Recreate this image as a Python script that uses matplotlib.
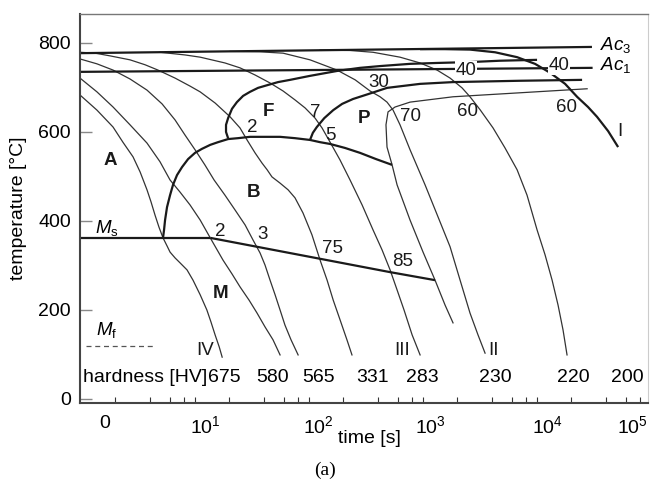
import matplotlib
matplotlib.use('Agg')
import matplotlib.pyplot as plt
from matplotlib.ticker import FixedLocator, NullFormatter

plt.rcParams['font.family'] = ['Liberation Sans', 'DejaVu Sans']
plt.rcParams['mathtext.fontset'] = 'custom'
plt.rcParams['mathtext.rm'] = 'Liberation Sans'
plt.rcParams['mathtext.it'] = 'Liberation Sans:italic'
plt.rcParams['mathtext.bf'] = 'Liberation Sans:bold'

# ── Data: time [s], temperature [°C] ─────────────────────────
ac3_t, ac3_T = [0.98, 30300], [777, 791]
ac1_t, ac1_T = [0.98, 30700], [735, 744]
ms_t, ms_T = [0.98, 13.6], [362, 362]
bf_t, bf_T = [13.6, 125, 514, 1274], [362, 315, 285, 267]
mf_t, mf_T = [1.11, 4.55], [119, 119]

# transformation boundaries (thick)
fs_t = [19.5, 18.7, 18.7, 19.5, 21.1, 23.3, 26.4, 30.3, 35.7, 42.9, 53.5, 68.1, 102, 176,
        280, 420, 769, 1327, 2582, 4730, 10000]
fs_T = [586, 600, 616, 631, 652, 667, 681, 690, 699, 705, 712, 717, 726, 737,
        744, 748, 753, 755, 757, 760, 762]
bs_t = [5.24, 5.35, 5.46, 5.68, 6.04, 6.41, 6.95, 7.69, 8.69, 10, 11.5, 13.6, 15.9, 19.5,
        23.8, 30.3, 41.1, 55.7, 75.3, 102, 125, 153, 207, 280, 387, 535]
bs_T = [362, 380, 402, 431, 458, 481, 503, 521, 539, 553, 562, 571, 577, 584,
        586, 589, 589, 589, 586, 582, 577, 573, 564, 553, 539, 526]
ps_t = [102, 108, 117, 136, 163, 195, 243, 330, 483, 942, 1832, 7096, 24830]
ps_T = [582, 598, 611, 631, 649, 663, 674, 685, 699, 708, 712, 715, 717]

# pearlite finish (thin)
pf_t = [27480, 7096, 1832, 769, 568, 493, 473, 483, 535, 592, 769, 1000, 1274, 1560, 1832]
pf_T = [697, 688, 679, 667, 656, 645, 616, 566, 526, 481, 402, 330, 267, 211, 171]

# cooling curves
c_iv_t = [0.98, 1.38, 1.91, 2.33, 2.86, 3.30, 3.79, 4.11, 4.46, 4.83, 5.24, 5.68, 6.04,
          6.68, 7.38, 8.51, 9.60, 11.1, 12.7, 13.8, 15.0, 16.3, 17.3]
c_iv_T = [683, 649, 611, 577, 544, 510, 470, 443, 413, 386, 362, 344, 330,
          317, 306, 290, 267, 234, 200, 173, 144, 117, 94]
c_2_t = [0.98, 1.38, 1.91, 2.69, 3.79, 4.93, 6.04, 7.38, 9.04, 11.1, 13.6, 17.6, 21.1,
         24.8, 29.8, 35.0, 41.1, 48.3, 55.7]
c_2_T = [721, 690, 656, 616, 575, 533, 492, 465, 436, 402, 362, 312, 281,
         252, 222, 193, 162, 133, 99]
c_3_t = [0.98, 1.38, 1.91, 2.69, 3.79, 5.14, 6.68, 8.17, 10, 12.2, 14.7, 18.3, 22.4,
         27.5, 32.3, 37.2, 41.1, 45.5, 50.4, 55.7, 61.5, 69.5, 80.2]
c_3_T = [764, 753, 739, 719, 694, 663, 627, 593, 560, 526, 492, 458, 425,
         391, 357, 328, 301, 267, 234, 200, 166, 133, 99]
c_w_t = [0.98, 1.33, 1.79, 2.69, 3.64, 4.73, 6.68, 9.04, 11.1, 15.0, 20.3, 24.8, 28.6,
         33.6, 38.7, 42.9, 47.3, 55.7, 65.5, 75.3, 88.5, 106, 125, 144, 163, 187, 215, 238]
c_w_T = [779, 777, 771, 762, 751, 739, 721, 703, 690, 665, 634, 609, 582,
         553, 530, 515, 499, 485, 470, 452, 418, 369, 312, 267, 222, 178, 133, 99]
c_iii_t = [4.93, 8.17, 11.1, 18.3, 24.8, 33.6, 45.5, 59.2, 75.3, 92.3, 113, 130, 153,
           187, 229, 292, 364, 437, 514, 592, 681, 802, 942]
c_iii_T = [779, 773, 768, 755, 744, 728, 710, 692, 672, 654, 631, 609, 577,
           537, 492, 436, 380, 335, 290, 245, 200, 144, 99]
c_ii_t = [20.3, 37.2, 59.2, 102, 176, 254, 343, 420, 483, 546, 628, 769, 1042, 1409,
          1726, 2113, 2582, 3034, 3499]
c_ii_T = [781, 780, 777, 762, 739, 717, 692, 679, 667, 649, 616, 560, 481, 398,
          342, 267, 193, 144, 103]
c_220_t = [125, 229, 364, 628, 942, 1327, 1726, 2198, 2582, 3162, 4111, 5236, 6683, 8166,
           10000, 11750, 13550, 15280, 16900, 18320]
c_220_T = [784, 783, 779, 768, 755, 739, 721, 699, 679, 650, 609, 564, 515, 458,
           380, 324, 267, 211, 155, 99]
c_i_t = [942, 1560, 2582, 4285, 6683, 9594, 13000, 17620, 22440, 27990, 33570, 41980, 51400]
c_i_T = [786, 786, 785, 779, 768, 753, 733, 708, 679, 656, 634, 602, 566]

hardness = ['675', '580', '565', '331', '283', '230', '220', '200']
hardness_t = [18.0, 48.3, 120, 364, 980, 4285, 20700, 61500]

xtick_pos = [1.62, 12.2, 120, 1150, 12300, 69000]
xtick_lab = ['0', r'$10^1$', r'$10^2$', r'$10^3$', r'$10^4$', r'$10^5$']
minor_ticks = [m * 10 ** e for e in range(0, 5) for m in (2, 4, 6, 8, 10)]

THICK = dict(color='#1a1a1a', lw=1.6, solid_capstyle='butt', solid_joinstyle='round')
THIN = dict(color='#333333', lw=0.9, solid_joinstyle='round')

fig = plt.figure(figsize=(6.5, 4.86), dpi=100)
ax = fig.add_axes([0.1231, 0.1708, 0.874, 0.8004])
ax.set_xscale('log')
ax.set_xlim(0.98, 94200)
ax.set_ylim(-9, 865)

# thin cooling curves
for t, T in [(c_iv_t, c_iv_T), (c_2_t, c_2_T), (c_3_t, c_3_T), (c_w_t, c_w_T),
             (c_iii_t, c_iii_T), (c_ii_t, c_ii_T), (c_220_t, c_220_T), (pf_t, pf_T)]:
    ax.plot(t, T, **THIN)

# thick lines
for t, T in [(ac3_t, ac3_T), (ac1_t, ac1_T), (ms_t, ms_T), (bf_t, bf_T),
             (fs_t, fs_T), (bs_t, bs_T), (ps_t, ps_T), (c_i_t, c_i_T)]:
    ax.plot(t, T, **THICK)
ax.plot(mf_t, mf_T, color='#555555', lw=0.9, ls=(0, (4, 3)))

fsz = 13.5
# phase labels
for s, x, y in [('A', 1.80, 535), ('F', 43.7, 647), ('P', 304, 631),
                ('B', 32.3, 465), ('M', 16.6, 236)]:
    ax.text(x, y, s, fontsize=fsz, fontweight='bold', ha='center', va='center', color='#1a1a1a')

# percentages
for s, x, y in [('2', 31.6, 609), ('7', 113, 643), ('5', 153, 593), ('30', 411, 710),
                ('70', 769, 634), ('60', 2432, 645), ('60', 17950, 656),
                ('2', 16.6, 377), ('3', 38.7, 369), ('75', 159, 339), ('85', 668, 308)]:
    ax.text(x, y, s, fontsize=fsz, ha='center', va='center', color='#1a1a1a')
for s, x, y in [('40', 2382, 739), ('40', 15600, 750)]:
    ax.text(x, y, s, fontsize=fsz, ha='center', va='center', color='#1a1a1a',
            bbox=dict(boxstyle='square,pad=0.05', fc='white', ec='none'))

# roman numerals
for s, x, y in [('IV', 12.2, 110), ('III', 655, 110), ('II', 4111, 110), ('I', 53500, 602)]:
    ax.text(x, y, s, fontsize=fsz, ha='center', va='center', color='#1a1a1a')

ax.text(1.69, 384, r'$M_{\rm s}$', fontsize=fsz, ha='center', va='center')
ax.text(1.69, 155, r'$M_{\rm f}$', fontsize=fsz, ha='center', va='center')
ax.text(35700, 795, r'$Ac_{3}$', fontsize=fsz, ha='left', va='center')
ax.text(35700, 750, r'$Ac_{1}$', fontsize=fsz, ha='left', va='center')

ax.text(1.04, 49, 'hardness [HV]', fontsize=14, ha='left', va='center')
for s, x in zip(hardness, hardness_t):
    ax.text(x, 49, s, fontsize=14, ha='center', va='center')

# axes styling
ax.set_yticks([0, 200, 400, 600, 800])
ax.tick_params(axis='y', direction='in', length=8.6, width=1, color='#888888',
               labelsize=14, pad=6.5)
ax.xaxis.set_major_locator(FixedLocator(xtick_pos))
ax.set_xticklabels(xtick_lab)
ax.xaxis.set_minor_locator(FixedLocator(minor_ticks))
ax.xaxis.set_minor_formatter(NullFormatter())
ax.tick_params(axis='x', which='major', length=0, labelsize=14, pad=9)
ax.tick_params(axis='x', which='minor', direction='in', length=4, width=0.8, color='#333333')

for side in ['left', 'bottom']:
    ax.spines[side].set_linewidth(1.5)
    ax.spines[side].set_color('#444444')
ax.spines['top'].set_color('#777777')
ax.spines['top'].set_linewidth(1.0)
ax.spines['right'].set_color('#cccccc')
ax.spines['right'].set_linewidth(0.8)

ax.set_ylabel('temperature [°C]', fontsize=14)
ax.yaxis.set_label_coords(-0.093, 0.5)
ax.set_xlabel('time [s]', fontsize=14)
ax.xaxis.set_label_coords(0.51, -0.07)

fig.text(0.5, (486 - 470) / 486, '(a)', fontsize=14, family='Liberation Serif',
         ha='center', va='center')

fig.savefig('out.png', dpi=100)
